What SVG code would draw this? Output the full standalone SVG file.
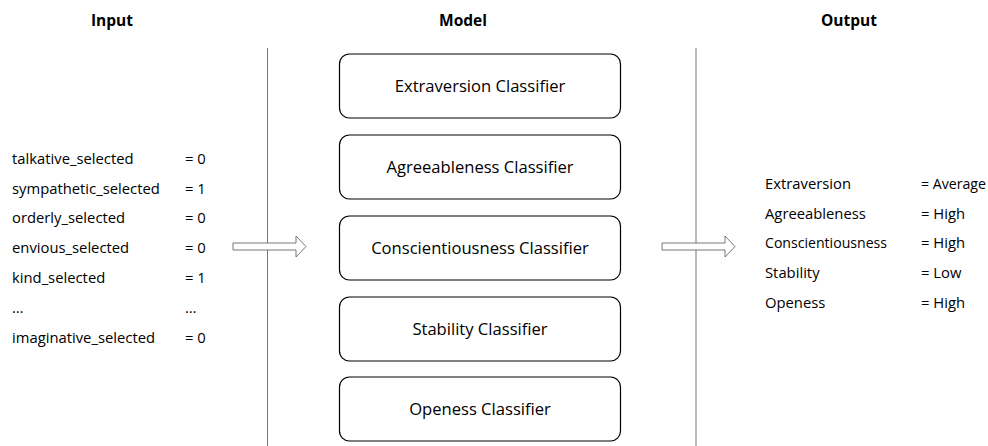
<svg xmlns="http://www.w3.org/2000/svg" width="988" height="446" viewBox="0 0 988 446">
<style>
text{font-family:"Open Sans","Liberation Sans",sans-serif;fill:#000}
.h{font-size:15.5px;font-weight:bold;text-anchor:middle}
.l{font-size:14.8px}
.b{font-size:16.6px;text-anchor:middle}
.box{fill:#fff;stroke:#000;stroke-width:1.2}
.sep{stroke:#777;stroke-width:1}
.arr{fill:#fff;stroke:#555;stroke-width:0.8}
</style>
<rect width="988" height="446" fill="#fff"/>
<g id="titles">
<text class="h" x="112" y="26">Input</text>
<text class="h" x="463" y="26">Model</text>
<text class="h" x="849" y="26">Output</text>
</g>
<g id="separators">
<line class="sep" x1="267.5" y1="48" x2="267.5" y2="446"/>
<line class="sep" x1="696" y1="48" x2="696" y2="446"/>
</g>
<g id="input">
<text class="l" x="12" y="164">talkative_selected</text><text class="l" x="185" y="164">= 0</text>
<text class="l" x="12" y="194">sympathetic_selected</text><text class="l" x="185" y="194">= 1</text>
<text class="l" x="12" y="223">orderly_selected</text><text class="l" x="185" y="223">= 0</text>
<text class="l" x="12" y="253">envious_selected</text><text class="l" x="185" y="253">= 0</text>
<text class="l" x="12" y="283">kind_selected</text><text class="l" x="185" y="283">= 1</text>
<text class="l" x="12" y="313">…</text><text class="l" x="185" y="313">…</text>
<text class="l" x="12" y="343">imaginative_selected</text><text class="l" x="185" y="343">= 0</text>
</g>
<g id="c1"><rect class="box" x="339.5" y="54" width="281" height="64" rx="10"/><text class="b" x="480" y="92">Extraversion Classifier</text></g>
<g id="c2"><rect class="box" x="339.5" y="135" width="281" height="64" rx="10"/><text class="b" x="480" y="173">Agreeableness Classifier</text></g>
<g id="c3"><rect class="box" x="339.5" y="216" width="281" height="64" rx="10"/><text class="b" x="480" y="254">Conscientiousness Classifier</text></g>
<g id="c4"><rect class="box" x="339.5" y="297" width="281" height="64" rx="10"/><text class="b" x="480" y="335">Stability Classifier</text></g>
<g id="c5"><rect class="box" x="339.5" y="377" width="281" height="64" rx="10"/><text class="b" x="480" y="415">Openess Classifier</text></g>
<g id="connectors">
<path class="arr" d="M233,243 H296 V236 L306,246.5 L296,257 V250 H233 Z"/>
<path class="arr" d="M662,243 H725 V236 L735,246.5 L725,257 V250 H662 Z"/>
</g>
<g id="output">
<text class="l" x="765" y="189">Extraversion</text><text class="l" x="921" y="189" textLength="65" lengthAdjust="spacingAndGlyphs">= Average</text>
<text class="l" x="765" y="219">Agreeableness</text><text class="l" x="921" y="219">= High</text>
<text class="l" x="765" y="248" textLength="122" lengthAdjust="spacingAndGlyphs">Conscientiousness</text><text class="l" x="921" y="248">= High</text>
<text class="l" x="765" y="278">Stability</text><text class="l" x="921" y="278">= Low</text>
<text class="l" x="765" y="308">Openess</text><text class="l" x="921" y="308">= High</text>
</g>
</svg>
